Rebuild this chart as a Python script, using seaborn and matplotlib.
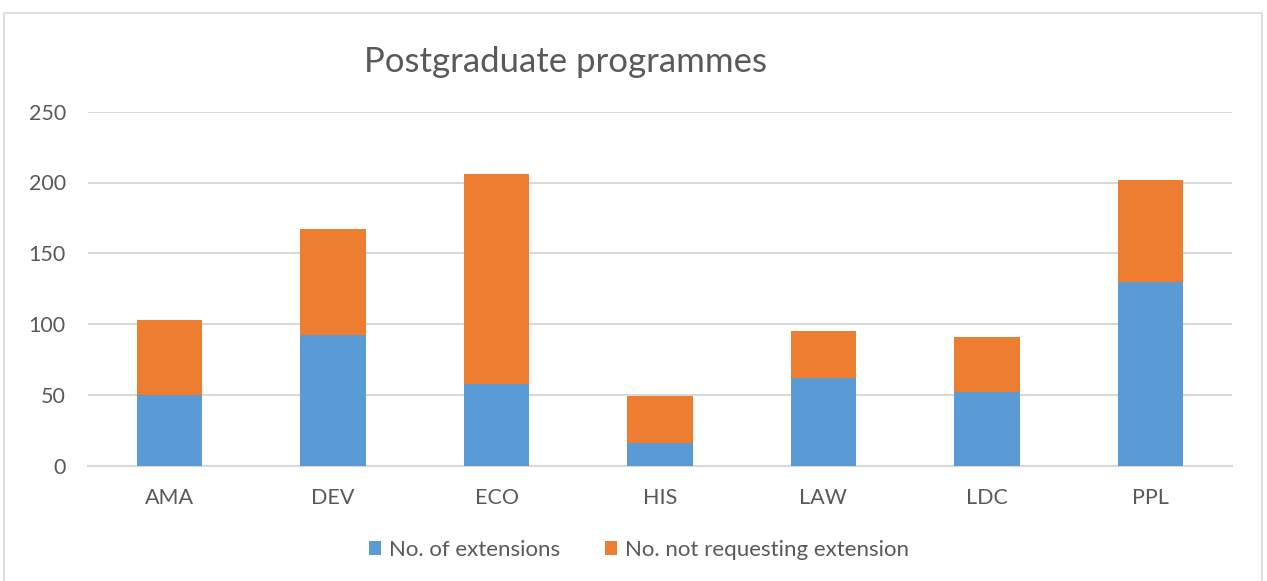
import matplotlib
matplotlib.use("Agg")
import matplotlib.pyplot as plt
import seaborn as sns
import pandas as pd
from matplotlib.patches import Rectangle, Patch

categories = ["AMA", "DEV", "ECO", "HIS", "LAW", "LDC", "PPL"]
extensions = [50, 92, 58, 16, 62, 52, 130]
not_requesting = [53, 75, 148, 33, 33, 39, 72]
y_ticks = [0, 50, 100, 150, 200, 250]
title = "Postgraduate programmes"
series_names = ["No. of extensions", "No. not requesting extension"]

BLUE = "#5B9BD5"
ORANGE = "#ED7D31"
GRID = "#D9D9D9"
TEXT = "#595959"

sns.set_style("white")
plt.rcParams["font.family"] = ["Lato", "DejaVu Sans"]

df = pd.DataFrame({
    "cat": categories,
    "ext": extensions,
    "total": [a + b for a, b in zip(extensions, not_requesting)],
})

W, H = 1267, 581
fig = plt.figure(figsize=(W / 100, H / 100), dpi=100)
ax = fig.add_axes([88 / W, 1 - 465.7 / H, (1232 - 88) / W, (465.7 - 111.7) / H])

sns.barplot(data=df, x="cat", y="total", color=ORANGE, width=0.4, ax=ax,
            saturation=1, edgecolor="none", zorder=3)
sns.barplot(data=df, x="cat", y="ext", color=BLUE, width=0.4, ax=ax,
            saturation=1, edgecolor="none", zorder=3)

ax.set_ylim(0, 250)
ax.set_xlim(-0.5, len(categories) - 0.5)
ax.set_yticks(y_ticks)
ax.set_yticklabels([str(t) for t in y_ticks])
ax.yaxis.grid(True, color=GRID, linewidth=1.5, zorder=0)
ax.set_axisbelow(True)
for s in ["top", "right", "left"]:
    ax.spines[s].set_visible(False)
ax.spines["bottom"].set_color(GRID)
ax.spines["bottom"].set_linewidth(1.5)
ax.tick_params(axis="both", length=0, labelsize=15.5, labelcolor=TEXT)
ax.tick_params(axis="y", pad=16)
ax.tick_params(axis="x", pad=16)
ax.set_xlabel("")
ax.set_ylabel("")

fig.text(565 / W, 1 - 62 / H, title, ha="center", va="center",
         fontsize=25, color=TEXT)

handles = [Patch(facecolor=BLUE, edgecolor="none"),
           Patch(facecolor=ORANGE, edgecolor="none")]
fig.legend(handles, series_names, loc="center", bbox_to_anchor=(639 / W, 1 - 550 / H),
           ncol=2, frameon=False, fontsize=16, labelcolor=TEXT,
           handlelength=0.55, handleheight=0.55, handletextpad=0.35, columnspacing=2.0)

fig.patches.append(Rectangle((4 / W, -0.1), (1262 - 4) / W, (1 - 13 / H) + 0.1,
                             transform=fig.transFigure, fill=False,
                             edgecolor=GRID, linewidth=1.2))

fig.savefig("out.png", dpi=100, facecolor="white")
